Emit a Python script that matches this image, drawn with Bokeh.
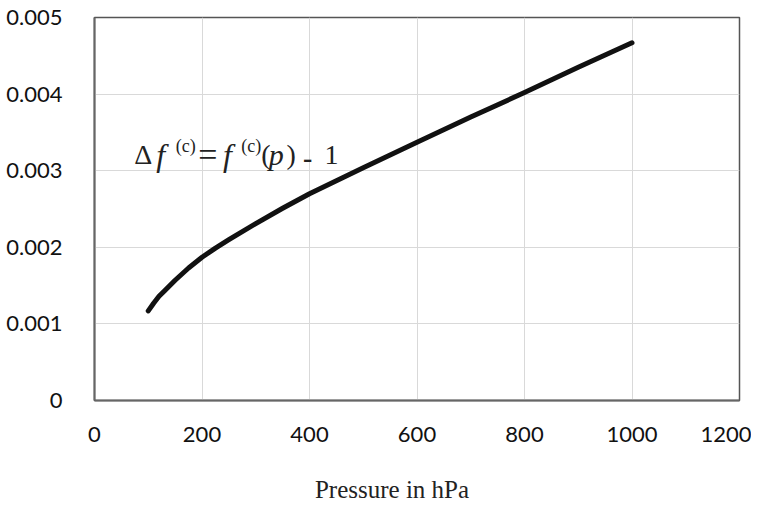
from bokeh.plotting import figure
from bokeh.models import Range1d, FixedTicker, Label, ColumnDataSource
from bokeh.embed import file_html
from bokeh.resources import INLINE

# data
pressure = [100, 110, 120, 130, 150, 175, 200, 225, 250, 300, 350, 400,
            500, 600, 700, 800, 900, 1000]
delta_f = [0.00117, 0.00127, 0.00136, 0.00143, 0.00157, 0.00173, 0.00187,
           0.00199, 0.00210, 0.00231, 0.00251, 0.00270,
           0.00304, 0.00337, 0.00370, 0.00402, 0.00435, 0.00467]
x_ticks = [0, 200, 400, 600, 800, 1000, 1200]
y_ticks = [0, 0.001, 0.002, 0.003, 0.004, 0.005]
y_tick_labels = ["0", "0.001", "0.002", "0.003", "0.004", "0.005"]
x_title = "Pressure in hPa"

p = figure(width=751, height=506, output_backend="svg", toolbar_location=None,
           x_range=Range1d(0, 1200), y_range=Range1d(0, 0.005),
           min_border_left=94, min_border_right=12, min_border_top=17, min_border_bottom=106)

src = ColumnDataSource(dict(x=pressure, y=delta_f))
p.line("x", "y", source=src, line_color="#111111", line_width=5,
       line_cap="round", line_join="round")

for ax in (p.xaxis[0], p.yaxis[0]):
    ax.major_tick_line_color = None
    ax.minor_tick_line_color = None
    ax.axis_line_color = "#666666"
    ax.axis_line_width = 2
    ax.major_label_text_font = "Lato"
    ax.major_label_text_font_size = "22px"
    ax.major_label_text_color = "#111111"

p.xaxis[0].ticker = FixedTicker(ticks=x_ticks)
p.yaxis[0].ticker = FixedTicker(ticks=y_ticks)
p.yaxis[0].major_label_overrides = {t: l for t, l in zip(y_ticks, y_tick_labels)}
p.xaxis[0].major_label_overrides = {t: str(t) for t in x_ticks}
p.yaxis[0].major_label_standoff = 26
p.xaxis[0].major_label_standoff = 20

serif = "Liberation Serif"

# x axis title (trailing no-break spaces shift the centred text left, as in the reference)
xa = p.xaxis[0]
xa.axis_label = x_title + "\u00a0" * 8
xa.axis_label_standoff = 31
xa.axis_label_text_font = serif
xa.axis_label_text_font_size = "25px"
xa.axis_label_text_font_style = "normal"
xa.axis_label_text_color = "#222222"

p.xgrid.grid_line_color = "#d9d9d9"
p.ygrid.grid_line_color = "#d9d9d9"
p.xgrid.ticker = FixedTicker(ticks=x_ticks)
p.ygrid.ticker = FixedTicker(ticks=y_ticks)

p.outline_line_color = "#555555"
p.outline_line_width = 1.5
p.background_fill_color = "white"
p.border_fill_color = "white"

# formula annotation built from pieces
base_y = 0.003205
sup_y = 0.003316
dash_y = 0.003172
pieces = [
    ("\u0394", 74, base_y, "normal", "28px"),
    ("f", 115, base_y, "italic", "32px"),
    ("(c)", 151, sup_y, "normal", "18px"),
    ("=", 193, base_y, "normal", "34px"),
    ("f", 239, base_y, "italic", "32px"),
    ("(c)", 273, sup_y, "normal", "18px"),
    ("(", 310, base_y, "normal", "28px"),
    ("p", 324, base_y, "italic", "30px"),
    (")", 357, base_y, "normal", "28px"),
    ("-", 388, dash_y, "bold", "28px"),
    ("1", 428, base_y, "normal", "28px"),
]
for txt, x, y, style, size in pieces:
    p.add_layout(Label(x=x, y=y, text=txt, text_font=serif, text_font_style=style,
                       text_font_size=size, text_color="#222222", text_baseline="alphabetic"))

open("out.html", "w").write(file_html(p, INLINE))
